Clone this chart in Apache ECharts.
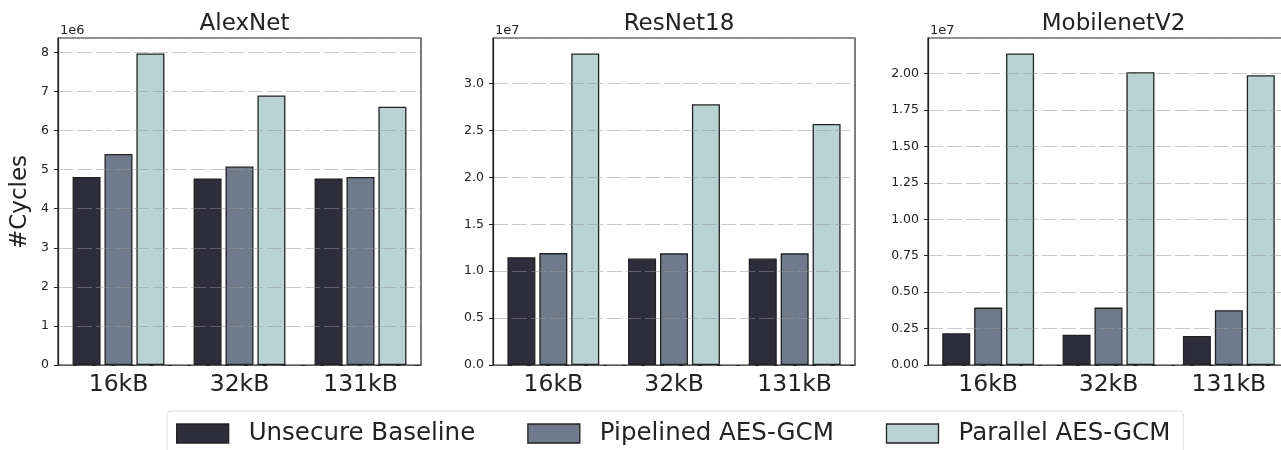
<!DOCTYPE html>
<html>
<head>
<meta charset="utf-8">
<script src="https://cdn.jsdelivr.net/npm/echarts@6/dist/echarts.min.js"></script>
<style>
  html, body { margin: 0; padding: 0; background: #fff; }
  #chart { width: 1281px; height: 450px; }
</style>
</head>
<body>
<div id="chart"></div>
<script>
var categories = ['16kB', '32kB', '131kB'];
var models = ['AlexNet', 'ResNet18', 'MobilenetV2'];
var seriesNames = ['Unsecure Baseline', 'Pipelined AES-GCM', 'Parallel AES-GCM'];
var exponents = ['1e6', '1e7', '1e7'];

// #Cycles
var alexUnsecure = [4.81e6, 4.77e6, 4.77e6];
var alexPipelined = [5.40e6, 5.08e6, 4.81e6];
var alexParallel = [7.97e6, 6.90e6, 6.61e6];

var resUnsecure = [1.150e7, 1.135e7, 1.135e7];
var resPipelined = [1.193e7, 1.190e7, 1.190e7];
var resParallel = [3.32e7, 2.78e7, 2.57e7];

var mobUnsecure = [2.18e6, 2.08e6, 1.99e6];
var mobPipelined = [3.94e6, 3.94e6, 3.76e6];
var mobParallel = [2.137e7, 2.009e7, 1.988e7];

var panelData = [
  [alexUnsecure, alexPipelined, alexParallel],
  [resUnsecure, resPipelined, resParallel],
  [mobUnsecure, mobPipelined, mobParallel]
];
var intervals = [1e6, 5e6, 2.5e6];
var decimals = [0, 1, 2];
var scales = [1e6, 1e7, 1e7];

var colors = ['#2e2d3c', '#707a8d', '#b9d3d2'];
var font = 'DejaVu Sans';

var chart = echarts.init(document.getElementById('chart'));

var gridPos = [
  {left: 58, width: 363},
  {left: 493, width: 362},
  {left: 928, width: 361}
];

var grids = [], xAxes = [], yAxes = [], titles = [], series = [];
for (var i = 0; i < 3; i++) {
  grids.push({
    left: gridPos[i].left, width: gridPos[i].width, top: 38, height: 327,
    outerBoundsMode: 'none', containLabel: false,
    show: true, borderColor: '#222', borderWidth: 1.2, backgroundColor: 'transparent'
  });
  titles.push({
    text: models[i],
    left: gridPos[i].left + gridPos[i].width / 2, top: 8, textAlign: 'center',
    textStyle: {fontFamily: font, fontSize: 23, fontWeight: 'normal', color: '#222'}
  });
  xAxes.push({
    type: 'category', gridIndex: i, data: categories,
    axisLine: {lineStyle: {color: '#222', width: 1.2}},
    axisTick: {alignWithLabel: true, length: 4, lineStyle: {color: '#222'}},
    axisLabel: {fontFamily: font, fontSize: 23.5, color: '#222', margin: 8}
  });
  var all = [].concat.apply([], panelData[i]);
  (function (k) {
    yAxes.push({
      type: 'value', gridIndex: k, min: 0, max: Math.max.apply(null, all) * 1.05,
      interval: intervals[k], z: 5,
      name: exponents[k], nameLocation: 'end', nameGap: 1,
      nameTextStyle: {fontFamily: font, fontSize: 13, color: '#222', align: 'left', verticalAlign: 'bottom', padding: [0, 0, 0, 2]},
      axisLine: {show: true, lineStyle: {color: '#222', width: 1.2}},
      axisTick: {show: true, length: 4, lineStyle: {color: '#222'}},
      axisLabel: {
        fontFamily: font, fontSize: 12.5, color: '#222', margin: 9, showMaxLabel: false,
        formatter: function (v) { return (v / scales[k]).toFixed(decimals[k]); }
      },
      splitLine: {show: true, lineStyle: {color: 'rgba(150,150,150,0.5)', width: 1.2, type: [15, 4]}}
    });
  })(i);
  for (var s = 0; s < 3; s++) {
    series.push({
      name: seriesNames[s], type: 'bar', xAxisIndex: i, yAxisIndex: i,
      data: panelData[i][s], barWidth: 28, barGap: '14%',
      itemStyle: {color: colors[s], borderColor: '#222', borderWidth: 1.3}
    });
  }
}

var option = {
  animation: false,
  backgroundColor: '#fff',
  title: titles,
  grid: grids,
  xAxis: xAxes,
  yAxis: yAxes,
  series: series,
  legend: {
    data: seriesNames, left: 167, top: 411,
    itemWidth: 52, itemHeight: 19, itemGap: 52,
    padding: [10, 13, 12, 9],
    borderColor: '#ddd', borderWidth: 1, borderRadius: 4, backgroundColor: '#fff',
    icon: 'rect',
    itemStyle: {borderColor: '#222', borderWidth: 1.3},
    textStyle: {fontFamily: font, fontSize: 24.5, color: '#222', padding: [0, 0, 0, 15]}
  },
  graphic: [{
    type: 'text', x: 20, y: 202, rotation: Math.PI / 2,
    style: {text: '#Cycles', font: '23px "DejaVu Sans"', fill: '#222', align: 'center', verticalAlign: 'middle'}
  }]
};
chart.setOption(option);
</script>
</body>
</html>
